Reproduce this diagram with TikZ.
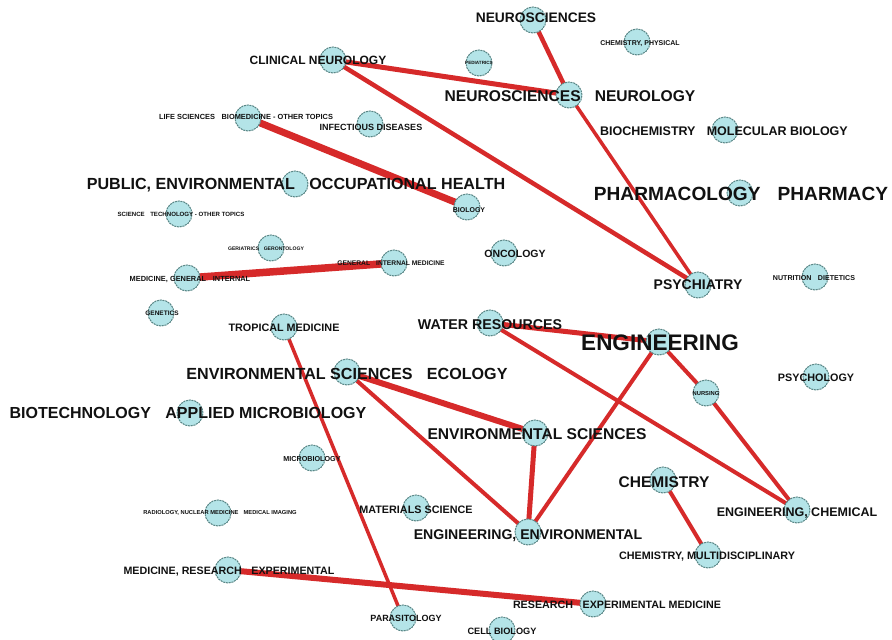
\documentclass[tikz,border=0pt]{standalone}
\usepackage{fontspec}
\setmainfont{Liberation Sans}
\definecolor{edgered}{RGB}{214,42,42}
\definecolor{cfill}{RGB}{180,228,232}
\definecolor{cborder}{RGB}{90,135,135}
\definecolor{txt}{RGB}{17,17,17}
\pgfdeclarelayer{edges}
\pgfdeclarelayer{paper}
\pgfsetlayers{paper,edges,main}
\newcommand{\ampgap}{\hspace{0.9em}}
\tikzset{
  circ/.style={circle, minimum size=26pt, inner sep=0pt, fill=cfill, draw=cborder, line width=1pt, dash pattern=on 2pt off 0.8pt},
  lbl/.style={font=\bfseries\fontsize{#1}{#1}\selectfont, inner sep=0pt, text=txt},
  link/.style={draw=edgered, line width=#1, line cap=round},
}
\begin{document}
\begin{tikzpicture}[x=1pt,y=-1pt]
\begin{pgfonlayer}{paper}
\fill[white] (0,0) rectangle (892,640);
\end{pgfonlayer}
\useasboundingbox (0,0) rectangle (892,640);
% circles
\node[circ] (neuro) at (533,20) {};
\node[circ] (chemphys) at (637,42) {};
\node[circ] (pedi) at (479,63) {};
\node[circ] (clin) at (333,60) {};
\node[circ] (nn) at (569,95) {};
\node[circ] (biochem) at (725,130) {};
\node[circ] (lifesci) at (248,118) {};
\node[circ] (infect) at (370,124) {};
\node[circ] (public) at (295,184) {};
\node[circ] (scitech) at (179,214) {};
\node[circ] (biology) at (467,207) {};
\node[circ] (pharma) at (740,193) {};
\node[circ] (geri) at (271,248) {};
\node[circ] (gim) at (394,263) {};
\node[circ] (mgi) at (187,278) {};
\node[circ] (genetics) at (161,313) {};
\node[circ] (onco) at (504,253) {};
\node[circ] (psychia) at (698,285) {};
\node[circ] (nutri) at (815,277) {};
\node[circ] (tropic) at (284,327) {};
\node[circ] (water) at (490,323) {};
\node[circ] (eng) at (659,342) {};
\node[circ] (ese) at (347,372) {};
\node[circ] (psycho) at (816,377) {};
\node[circ] (nurs) at (706,393) {};
\node[circ] (biotech) at (190,413) {};
\node[circ] (envsci) at (535,433) {};
\node[circ] (micro) at (312,458) {};
\node[circ] (chem) at (663,480) {};
\node[circ] (radio) at (218,513) {};
\node[circ] (mater) at (416,508) {};
\node[circ] (engenv) at (528,532) {};
\node[circ] (engchem) at (797,510) {};
\node[circ] (chemmulti) at (708,555) {};
\node[circ] (mre) at (228,570) {};
\node[circ] (para) at (403,618) {};
\node[circ] (rem) at (593,604) {};
\node[circ] (cellbio) at (502,630) {};
% edges
\begin{pgfonlayer}{edges}
\draw[link=5pt] (clin.center) -- (nn.center);
\draw[link=4.5pt] (clin.center) -- (psychia.center);
\draw[link=4.5pt] (neuro.center) -- (nn.center);
\draw[link=3.5pt] (nn.center) -- (psychia.center);
\draw[link=7pt] (lifesci.center) -- (biology.center);
\draw[link=7.5pt] (mgi.center) -- (gim.center);
\draw[link=3.5pt] (tropic.center) -- (para.center);
\draw[link=5pt] (water.center) -- (eng.center);
\draw[link=4pt] (water.center) -- (engchem.center);
\draw[link=4pt] (eng.center) -- (nurs.center);
\draw[link=4pt] (nurs.center) -- (engchem.center);
\draw[link=4pt] (eng.center) -- (engenv.center);
\draw[link=6pt] (ese.center) -- (envsci.center);
\draw[link=4pt] (ese.center) -- (engenv.center);
\draw[link=5pt] (envsci.center) -- (engenv.center);
\draw[link=4pt] (chem.center) -- (chemmulti.center);
\draw[link=6pt] (mre.center) -- (rem.center);
\end{pgfonlayer}
% labels
\node[lbl=13.8] (lneuro) at (536,18) {NEUROSCIENCES};
\node[lbl=7] (lchemphys) at (640,44) {CHEMISTRY, PHYSICAL};
\node[lbl=4.6] (lpedi) at (479,63) {PEDIATRICS};
\node[lbl=12] (lclin) at (318,60) {CLINICAL NEUROLOGY};
\node[lbl=15.6] (lnn) at (570,96) {NEUROSCIENCES\ampgap NEUROLOGY};
\node[lbl=12.5] (lbiochem) at (724,131) {BIOCHEMISTRY\ampgap MOLECULAR BIOLOGY};
\node[lbl=7.4] (llifesci) at (246,117) {LIFE SCIENCES\ampgap BIOMEDICINE - OTHER TOPICS};
\node[lbl=9] (linfect) at (371,127) {INFECTIOUS DISEASES};
\node[lbl=16.1] (lpublic) at (296,185) {PUBLIC, ENVIRONMENTAL\ampgap OCCUPATIONAL HEALTH};
\node[lbl=6.1] (lscitech) at (181,214) {SCIENCE\ampgap TECHNOLOGY - OTHER TOPICS};
\node[lbl=7] (lbiology) at (469,210) {BIOLOGY};
\node[lbl=19.1] (lpharma) at (741,194) {PHARMACOLOGY\ampgap PHARMACY};
\node[lbl=5.1] (lgeri) at (266,249) {GERIATRICS\ampgap GERONTOLOGY};
\node[lbl=6.7] (lgim) at (391,263) {GENERAL\ampgap INTERNAL MEDICINE};
\node[lbl=7.4] (lmgi) at (190,279) {MEDICINE, GENERAL\ampgap INTERNAL};
\node[lbl=6.5] (lgenetics) at (162,313) {GENETICS};
\node[lbl=10.5] (lonco) at (515,254) {ONCOLOGY};
\node[lbl=14] (lpsychia) at (698,285) {PSYCHIATRY};
\node[lbl=7.1] (lnutri) at (814,278) {NUTRITION\ampgap DIETETICS};
\node[lbl=10.8] (ltropic) at (284,328) {TROPICAL MEDICINE};
\node[lbl=14.2] (lwater) at (490,325) {WATER RESOURCES};
\node[lbl=22.5] (leng) at (660,343) {ENGINEERING};
\node[lbl=16.1] (lese) at (347,374) {ENVIRONMENTAL SCIENCES\ampgap ECOLOGY};
\node[lbl=10.8] (lpsycho) at (816,378) {PSYCHOLOGY};
\node[lbl=5.8] (lnurs) at (706,393) {NURSING};
\node[lbl=16] (lbiotech) at (188,413) {BIOTECHNOLOGY\ampgap APPLIED MICROBIOLOGY};
\node[lbl=15.6] (lenvsci) at (537,434) {ENVIRONMENTAL SCIENCES};
\node[lbl=7.2] (lmicro) at (312,459) {MICROBIOLOGY};
\node[lbl=15.5] (lchem) at (664,482) {CHEMISTRY};
\node[lbl=5.75] (lradio) at (220,513) {RADIOLOGY, NUCLEAR MEDICINE\ampgap MEDICAL IMAGING};
\node[lbl=10.8] (lmater) at (416,510) {MATERIALS SCIENCE};
\node[lbl=14.1] (lengenv) at (528,536) {ENGINEERING, ENVIRONMENTAL};
\node[lbl=12.5] (lengchem) at (797,513) {ENGINEERING, CHEMICAL};
\node[lbl=10.8] (lchemmulti) at (707,557) {CHEMISTRY, MULTIDISCIPLINARY};
\node[lbl=10.7] (lmre) at (229,572) {MEDICINE, RESEARCH\ampgap EXPERIMENTAL};
\node[lbl=9] (lpara) at (406,618) {PARASITOLOGY};
\node[lbl=10.7] (lrem) at (617,605) {RESEARCH\ampgap EXPERIMENTAL MEDICINE};
\node[lbl=9.2] (lcellbio) at (502,631) {CELL BIOLOGY};
\end{tikzpicture}
\end{document}
